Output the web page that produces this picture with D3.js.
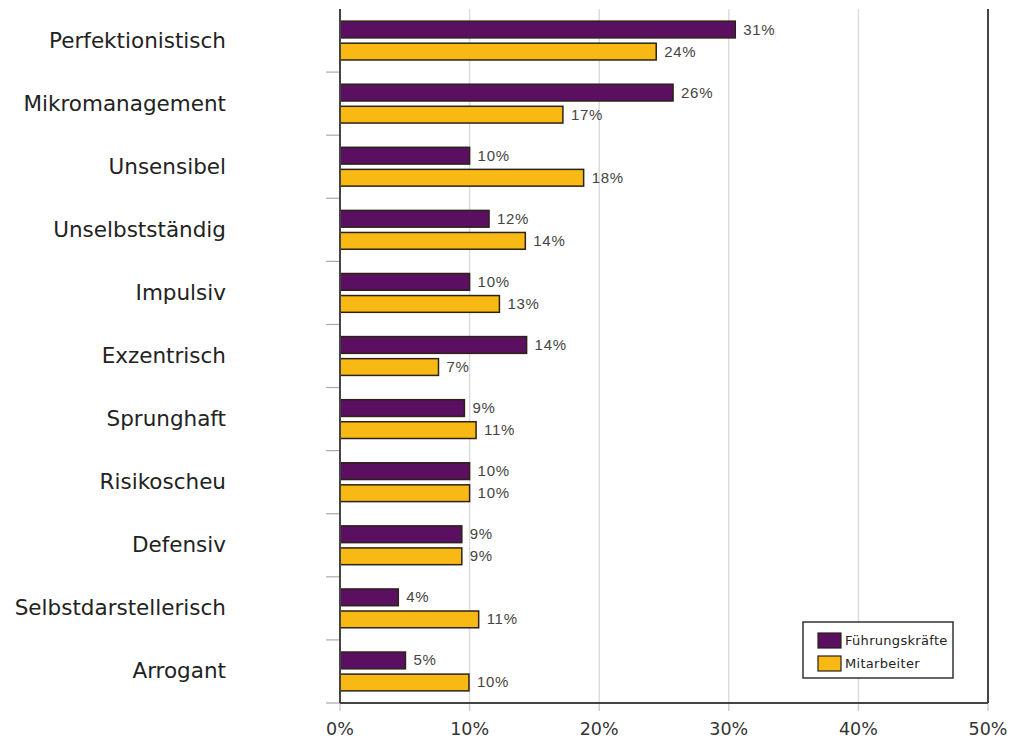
<!DOCTYPE html>
<html>
<head>
<meta charset="utf-8">
<script src="https://cdn.jsdelivr.net/npm/d3@7"></script>
<style>
  body { margin: 0; background: #fff; }
</style>
</head>
<body>
<script>
const categories = ["Perfektionistisch", "Mikromanagement", "Unsensibel", "Unselbstständig", "Impulsiv",
    "Exzentrisch", "Sprunghaft", "Risikoscheu", "Defensiv", "Selbstdarstellerisch", "Arrogant"];
const seriesNames = ["Führungskräfte", "Mitarbeiter"];
// bar lengths, in %
const fuehrung = [30.5, 25.7, 10, 11.5, 10, 14.4, 9.6, 10, 9.4, 4.5, 5.05];
const mitarbeiter = [24.4, 17.2, 18.8, 14.3, 12.3, 7.6, 10.5, 10, 9.4, 10.7, 9.95];
// value labels as printed on the chart
const fuehrungLabels = ["31%", "26%", "10%", "12%", "10%", "14%", "9%", "10%", "9%", "4%", "5%"];
const mitarbeiterLabels = ["24%", "17%", "18%", "14%", "13%", "7%", "11%", "10%", "9%", "11%", "10%"];
const xTicks = [0, 10, 20, 30, 40, 50];
const colors = ["#5b0f60", "#f9b914"];

const w = 1010, h = 738;
const plotLeft = 340, plotRight = 988, plotTop = 9, plotBottom = 703;

const svg = d3.select("body").append("svg")
    .attr("width", w)
    .attr("height", h);

const x = d3.scaleLinear().domain([0, 50]).range([plotLeft, plotRight]);
const y = d3.scaleBand().domain(categories).range([plotTop, plotBottom]);
const inner = d3.scaleBand().domain(seriesNames).range([0, y.bandwidth()])
    .paddingInner(0.24).paddingOuter(0.55);

// grid lines
svg.append("g").selectAll("line")
    .data(xTicks.slice(1, -1))
    .enter().append("line")
    .attr("x1", d => x(d)).attr("x2", d => x(d))
    .attr("y1", plotTop).attr("y2", plotBottom)
    .attr("stroke", "#dcdcdc").attr("stroke-width", 1.5);

// bottom axis ticks
svg.append("g").selectAll("line")
    .data(xTicks)
    .enter().append("line")
    .attr("x1", d => x(d)).attr("x2", d => x(d))
    .attr("y1", plotBottom).attr("y2", plotBottom + 8)
    .attr("stroke", "#cfcfcf").attr("stroke-width", 1.5);

svg.append("g").selectAll("text")
    .data(xTicks)
    .enter().append("text")
    .attr("x", d => x(d))
    .attr("y", 735)
    .attr("text-anchor", "middle")
    .attr("font-family", "DejaVu Sans, Verdana, sans-serif")
    .attr("font-size", 17.5)
    .attr("fill", "#333")
    .text(d => d + "%");

// left ticks between categories
svg.append("g").selectAll("line")
    .data(categories)
    .enter().append("line")
    .attr("x1", plotLeft - 14).attr("x2", plotLeft)
    .attr("y1", d => y(d) + y.step())
    .attr("y2", d => y(d) + y.step())
    .attr("stroke", "#aaa").attr("stroke-width", 1.2);

const series = [
    { name: seriesNames[0], values: fuehrung, labels: fuehrungLabels, color: colors[0] },
    { name: seriesNames[1], values: mitarbeiter, labels: mitarbeiterLabels, color: colors[1] }
];

series.forEach(s => {
    const g = svg.append("g");
    g.selectAll("rect")
        .data(s.values)
        .enter().append("rect")
        .attr("x", x(0))
        .attr("y", (d, i) => y(categories[i]) + inner(s.name))
        .attr("width", d => x(d) - x(0))
        .attr("height", inner.bandwidth())
        .attr("fill", s.color)
        .attr("stroke", "#2b2218")
        .attr("stroke-width", 1.5);
    g.selectAll("text")
        .data(s.values)
        .enter().append("text")
        .attr("x", d => x(d) + 8)
        .attr("y", (d, i) => y(categories[i]) + inner(s.name) + inner.bandwidth() / 2 + 5)
        .attr("font-family", "Liberation Sans, Arial, sans-serif")
        .attr("font-size", 15)
        .attr("letter-spacing", 0.7)
        .attr("fill", "#444")
        .text((d, i) => s.labels[i]);
});

// frame
svg.append("line")
    .attr("x1", plotLeft).attr("x2", plotLeft).attr("y1", plotTop).attr("y2", plotBottom)
    .attr("stroke", "#444").attr("stroke-width", 2);
svg.append("line")
    .attr("x1", plotRight).attr("x2", plotRight).attr("y1", plotTop).attr("y2", plotBottom)
    .attr("stroke", "#444").attr("stroke-width", 2);
svg.append("line")
    .attr("x1", plotLeft).attr("x2", plotRight).attr("y1", plotBottom).attr("y2", plotBottom)
    .attr("stroke", "#444").attr("stroke-width", 2);

// category labels
svg.append("g").selectAll("text")
    .data(categories)
    .enter().append("text")
    .attr("x", 226)
    .attr("y", d => y(d) + y.bandwidth() / 2 + 7)
    .attr("text-anchor", "end")
    .attr("font-family", "DejaVu Sans, Verdana, sans-serif")
    .attr("font-size", 21.5)
    .attr("fill", "#222")
    .text(d => d);

// legend
const legend = svg.append("g").attr("transform", "translate(803,622)");
legend.append("rect")
    .attr("width", 150).attr("height", 56)
    .attr("fill", "#fff").attr("stroke", "#333").attr("stroke-width", 1.5);
series.forEach((s, i) => {
    legend.append("rect")
        .attr("x", 15).attr("y", 11 + i * 23)
        .attr("width", 23).attr("height", 15)
        .attr("fill", s.color).attr("stroke", "#2b2218").attr("stroke-width", 1.2);
    legend.append("text")
        .attr("x", 42).attr("y", 23 + i * 23)
        .attr("font-family", "DejaVu Sans, Verdana, sans-serif")
        .attr("font-size", 13)
        .attr("letter-spacing", 0.3)
        .attr("fill", "#222")
        .text(s.name);
});
</script>
</body>
</html>
